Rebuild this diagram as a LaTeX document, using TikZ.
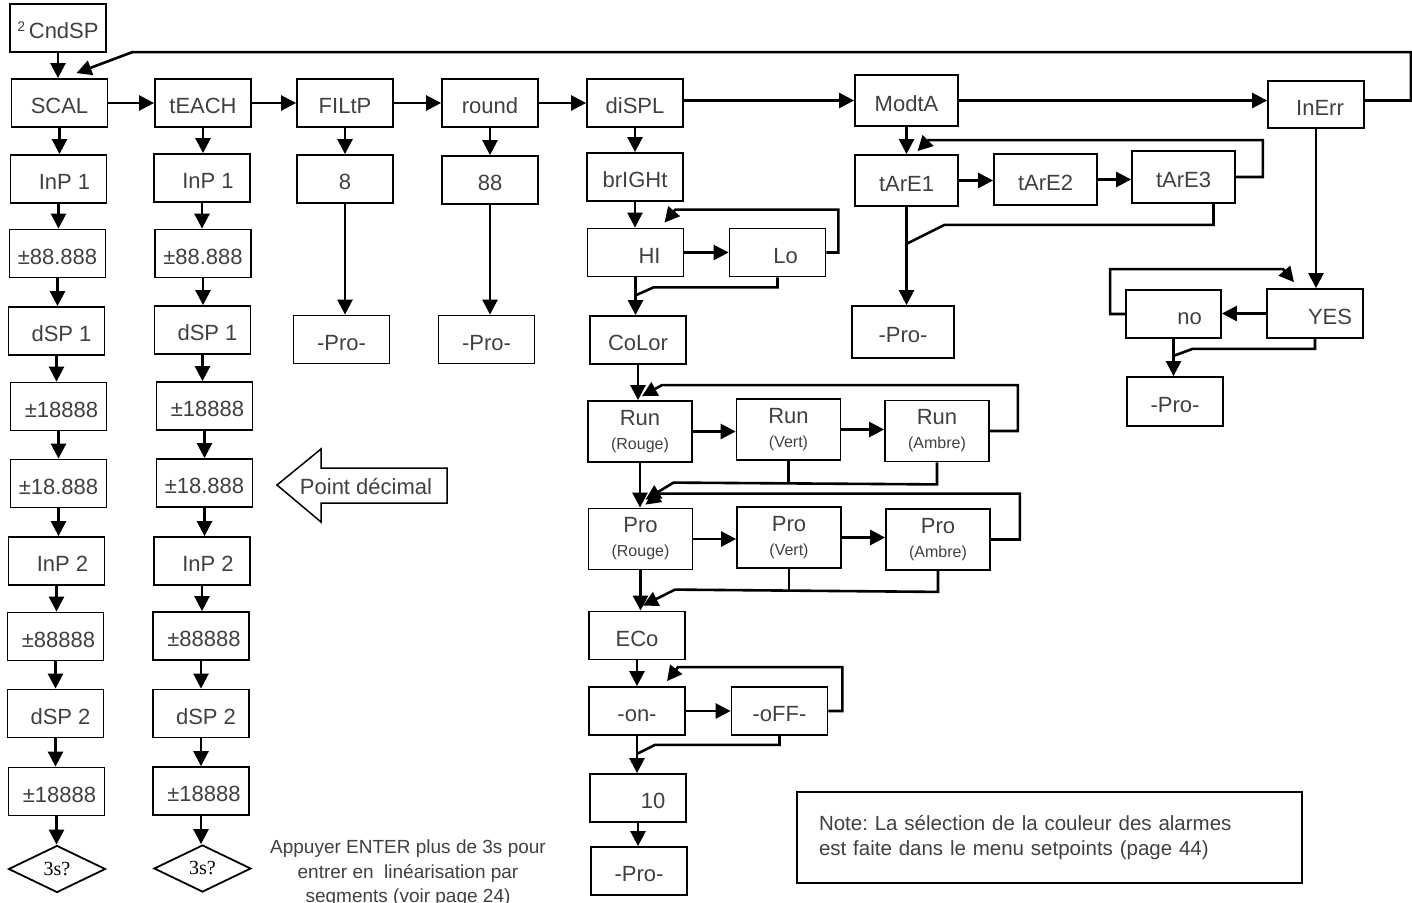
\documentclass[tikz,border=0pt]{standalone}
\usepackage{fontspec}
\setmainfont{Liberation Sans}
\newfontfamily\askfont{Liberation Serif}
\usetikzlibrary{
  arrows.meta,
  shapes.geometric,
  calc
}
\definecolor{MenuInk}{HTML}{404040}
\newcommand{\tint}{\fontsize{16}{18}\selectfont}
\frenchspacing

\begin{document}
\begin{tikzpicture}[
  x=1pt,y=-1pt,
  >={Triangle[length=15pt,width=15pt]},
  box/.style={
    draw=black,
    line width=1.8pt,
    minimum width=96pt,
    minimum height=48pt,
    inner sep=1pt,
    text height=21.5pt,
    text depth=0pt,
    align=center,
    text=MenuInk,
    font=\fontsize{22}{24}\selectfont
  },
  wbox/.style={box,text height={},text depth={},minimum width=104pt,minimum height=61pt},
  tbox/.style={box,minimum width=103pt,minimum height=51pt},
  ask/.style={diamond,draw=black,line width=1.8pt,aspect=2,inner sep=0pt,
    minimum width=97pt,minimum height=47pt,font=\askfont\fontsize{20}{22}\selectfont},
  arrow/.style={->,draw=black,line width=2.6pt},
  link/.style={draw=black,line width=2.6pt}
]
\useasboundingbox (0,0) rectangle (1412,902);

\node[box] (cndsp) at (58,28) {{\fontsize{14}{14}\selectfont\raisebox{7pt}{2}}\,CndSP};

\node[box] (scal) at (59.5,103) {SCAL};
\node[box] (inp1a) at (58.5,179) {\hspace{12pt}InP 1};
\node[box] (val1a) at (57.5,253.5) {±88.888};
\node[box] (dsp1a) at (56.5,331) {\hspace{10pt}dSP 1};
\node[box] (val2a) at (58.5,406.5) {\hspace{6pt}±18888};
\node[box] (val3a) at (58.5,483.5) {±18.888};
\node[box] (inp2a) at (56.5,561) {\hspace{12pt}InP 2};
\node[box] (val4a) at (55.5,636.5) {\hspace{6pt}±88888};
\node[box] (dsp2a) at (55.5,713.5) {\hspace{10pt}dSP 2};
\node[box] (val5a) at (56.5,791.5) {\hspace{6pt}±18888};
\node[ask] (holda) at (57,869) {3s?};

\node[box] (teach) at (203,103) {tEACH};
\node[box] (inp1b) at (202,178) {\hspace{12pt}InP 1};
\node[box] (val1b) at (203,253.5) {±88.888};
\node[box] (dsp1b) at (202.5,330) {\hspace{10pt}dSP 1};
\node[box] (val2b) at (204.5,406) {\hspace{6pt}±18888};
\node[box] (val3b) at (204.5,483) {±18.888};
\node[box] (inp2b) at (202,561) {\hspace{12pt}InP 2};
\node[box] (val4b) at (201,636) {\hspace{6pt}±88888};
\node[box] (dsp2b) at (201,713.5) {\hspace{10pt}dSP 2};
\node[box] (val5b) at (201,791) {\hspace{6pt}±18888};
\node[ask] (holdb) at (202.5,868.5) {3s?};

\node[box] (filtp) at (345,103) {FILtP};
\node[box] (eight) at (345,179) {8};
\node[box] (proa) at (341.5,339.5) {-Pro-};

\node[box] (round) at (490,103) {round};
\node[box] (eighty) at (490,180) {88};
\node[box] (prob) at (486.5,339.5) {-Pro-};

\node[box] (displ) at (635,103) {diSPL};
\node[box] (bright) at (635,177) {brIGHt};
\node[box] (hi) at (635.5,252.5) {\hspace{28pt}HI};
\node[box] (lo) at (777.5,252.5) {\hspace{16pt}Lo};
\node[box] (color) at (638,340) {CoLor};
\node[wbox] (runr) at (640,431.5) {Run\\{\tint (Rouge)}};
\node[wbox] (runv) at (788.5,429.5) {Run\\{\tint (Vert)}};
\node[wbox] (runa) at (937,431) {Run\\{\tint (Ambre)}};
\node[wbox] (pror) at (640.5,539) {Pro\\{\tint (Rouge)}};
\node[wbox] (prov) at (789,537.5) {Pro\\{\tint (Vert)}};
\node[wbox] (proam) at (938,539.5) {Pro\\{\tint (Ambre)}};
\node[box] (eco) at (637,635.5) {ECo};
\node[box] (on) at (637,711) {-on-};
\node[box] (off) at (779.5,711) {-oFF-};
\node[box] (ten) at (638,798) {\hspace{30pt}10};
\node[box] (proc) at (639,871) {-Pro-};

\node[tbox] (modta) at (906.5,100.5) {ModtA};
\node[tbox] (tare1) at (906.5,180.5) {tArE1};
\node[tbox] (tare2) at (1045.5,179.5) {tArE2};
\node[tbox,minimum height=52pt] (tare3) at (1183.5,177) {tArE3};
\node[tbox,minimum width=102pt,minimum height=52pt] (prod) at (903,332) {-Pro-};

\node[box,minimum height=47pt] (inerr) at (1316,104.5) {\hspace{8pt}InErr};
\node[box,minimum height=49pt] (yes) at (1315,313.5) {\hspace{30pt}YES};
\node[box,minimum width=95pt] (no) at (1173.5,314) {\hspace{32pt}no};
\node[box,minimum height=49pt] (proe) at (1175,401.5) {-Pro-};

\draw[line width=1.5pt] (277,485) -- (321,449) -- (321,468) -- (447,468)
  -- (447,503) -- (321,503) -- (321,522) -- cycle;
\node[text=MenuInk,font=\fontsize{22}{24}\selectfont] (ptdec) at (366,487) {Point décimal};

\node[text=MenuInk,font=\fontsize{19}{24.5}\selectfont,align=center,inner sep=0pt,
  anchor=north] (hint) at (408,840)
  {Appuyer ENTER plus de 3s pour\\entrer en~ linéarisation par\\segments (voir page 24)};

\node[draw=black,line width=1.8pt,minimum width=505pt,minimum height=91pt,
  inner xsep=22pt,text width=461pt,align=left,text=MenuInk,
  font=\fontsize{20.5}{25}\selectfont] (note) at (1049.5,837.5)
  {Note: La sélection de la couleur des alarmes\\est faite dans le menu setpoints (page 44)};

\foreach \a/\b in {cndsp/scal,scal/inp1a,inp1a/val1a,val1a/dsp1a,dsp1a/val2a,
  val2a/val3a,val3a/inp2a,inp2a/val4a,val4a/dsp2a,dsp2a/val5a,val5a/holda,
  teach/inp1b,inp1b/val1b,val1b/dsp1b,dsp1b/val2b,val2b/val3b,val3b/inp2b,
  inp2b/val4b,val4b/dsp2b,dsp2b/val5b,val5b/holdb,
  filtp/eight,eight/proa,round/eighty,eighty/prob,
  displ/bright,bright/hi,hi/color,color/runr,runr/pror,pror/eco,
  eco/on,on/ten,ten/proc,modta/tare1,tare1/prod,inerr/yes,no/proe}
  \draw[arrow] (\a.south) -- (\a.south |- \b.north);

\draw[arrow] (scal) -- (teach);
\draw[arrow] (teach) -- (filtp);
\draw[arrow] (filtp) -- (round);
\draw[arrow] (round) -- (displ);
\draw[arrow] (displ.east |- modta.west) -- (modta.west);
\draw[arrow] (modta.east) -- (modta.east -| inerr.west);
\draw[arrow] (inerr.east |- modta.east) -- ++(46,0)
  |- ([xshift=73pt,yshift=26pt]scal.north) -- ([xshift=17pt,yshift=5pt]scal.north);

\draw[arrow] (hi) -- (lo);
\draw[arrow] (lo.east) -- ++(12,0)
  |- ([xshift=40pt,yshift=18pt]hi.north) -- ([xshift=29pt,yshift=5pt]hi.north);
\draw[link] (lo.south) -- ++(0,10)
  -- ([xshift=18pt,yshift=-10pt]hi.south) -- ([yshift=-18pt]hi.south);

\draw[arrow] (runr.east) -- (runr.east -| runv.west);
\draw[arrow] (runv.east) -- (runv.east -| runa.west);
\draw[arrow] (runa.east) -- ++(28,0)
  |- ([xshift=22pt,yshift=15pt]runr.north) -- ([xshift=2pt,yshift=4pt]runr.north);
\draw[link] (runv.south) -- ++(0,23);
\draw[arrow] (runa.south) -- ++(0,22)
  -- ([xshift=33pt,yshift=25pt]pror.north) -- ([xshift=5pt,yshift=8pt]pror.north);

\draw[arrow] (pror.east) -- (pror.east -| prov.west);
\draw[arrow] (prov.east) -- (prov.east -| proam.west);
\draw[arrow] (proam.east) -- ++(29,0)
  |- ([xshift=20pt,yshift=14pt]pror.north) -- ([xshift=5pt,yshift=3pt]pror.north);
\draw[link] (prov.south) -- ++(0,23);
\draw[arrow] (proam.south) -- ++(0,21)
  -- ([xshift=38pt,yshift=21pt]eco.north) -- ([xshift=6pt,yshift=5pt]eco.north);

\draw[arrow] (on) -- (off);
\draw[arrow] (off.east) -- ++(14,0)
  |- ([xshift=41pt,yshift=19pt]on.north) -- ([xshift=30pt,yshift=5pt]on.north);
\draw[link] (off.south) -- ++(0,9)
  -- ([xshift=18pt,yshift=-9pt]on.south) -- ([yshift=-18pt]on.south);

\draw[arrow] (tare1.east) -- (tare1.east -| tare2.west);
\draw[arrow] (tare2.east) -- (tare2.east -| tare3.west);
\draw[arrow] (tare3.east) -- ++(27,0)
  |- ([xshift=22pt,yshift=14pt]tare1.north) -- ([xshift=11pt,yshift=3pt]tare1.north);
\draw[link] ([xshift=30pt]tare3.south) -- ++(0,21)
  -- ([xshift=38pt,yshift=-18pt]tare1.south) -- ([yshift=-37pt]tare1.south);

\draw[arrow] (yes.west) -- (yes.west -| no.east);
\draw[arrow] (no.west) -- ++(-15,0)
  |- ([xshift=-32pt,yshift=19pt]yes.north) -- ([xshift=-21pt,yshift=6pt]yes.north);
\draw[link] (yes.south) -- ++(0,10)
  -- ([xshift=19pt,yshift=-10pt]no.south) -- ([yshift=-17pt]no.south);
\end{tikzpicture}
\end{document}
